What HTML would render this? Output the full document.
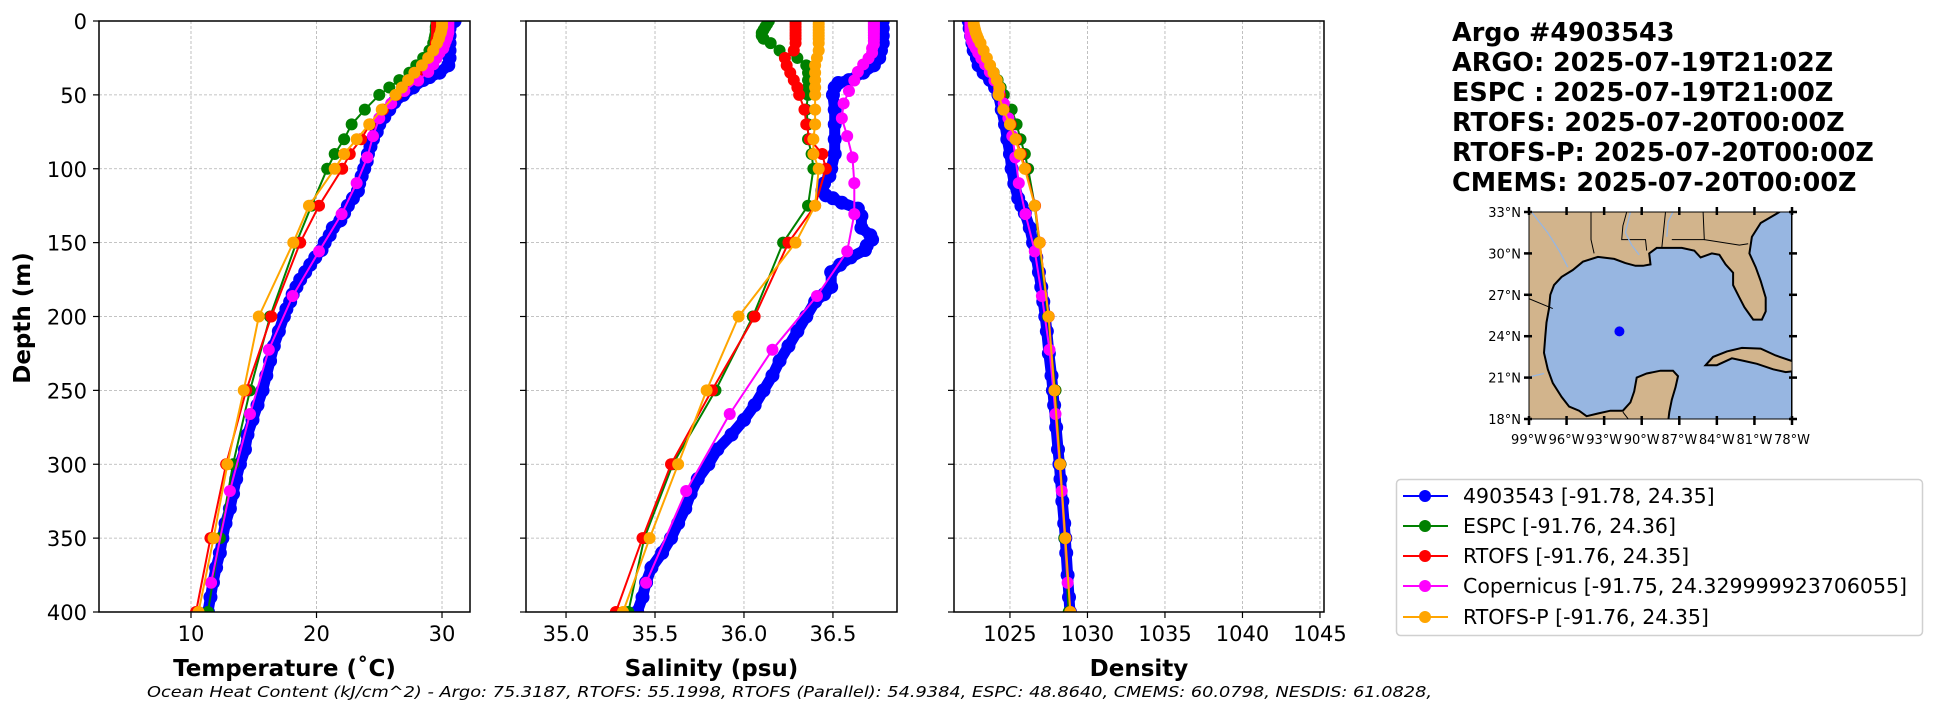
<!DOCTYPE html>
<html><head><meta charset="utf-8"><style>
html,body{margin:0;padding:0;background:#fff;}
svg{display:block;font-family:"DejaVu Sans","Liberation Sans",sans-serif;}
</style></head><body>
<svg id="fig" width="1948" height="712" viewBox="0 0 1948 712" xmlns="http://www.w3.org/2000/svg">
<rect width="1948" height="712" fill="#fff"/>
<g id="panels"></g>
<text x="0" y="0" transform="translate(30,318) rotate(-90)" text-anchor="middle" font-size="23" font-weight="bold">Depth (m)</text>
<text x="147" y="697" font-size="15" font-style="italic" textLength="1285" lengthAdjust="spacingAndGlyphs">Ocean Heat Content (kJ/cm^2) - Argo: 75.3187,  RTOFS: 55.1998,  RTOFS (Parallel): 54.9384,  ESPC: 48.8640,  CMEMS: 60.0798,  NESDIS: 61.0828,</text>
<g font-size="25.5" font-weight="bold">
<text x="1452" y="41">Argo #4903543</text>
<text x="1452" y="71">ARGO: 2025-07-19T21:02Z</text>
<text x="1452" y="101">ESPC : 2025-07-19T21:00Z</text>
<text x="1452" y="131">RTOFS: 2025-07-20T00:00Z</text>
<text x="1452" y="161">RTOFS-P: 2025-07-20T00:00Z</text>
<text x="1452" y="191">CMEMS: 2025-07-20T00:00Z</text>
</g>
<g id="map"></g>
<g>
<rect x="1396.5" y="479.5" width="526" height="156" rx="4" fill="#fff" stroke="#d0d0d0" stroke-width="1.5"/>
<g><line x1="1403" x2="1448" y1="496" y2="496" stroke="#0000ff" stroke-width="2"/><circle cx="1425" cy="496" r="6" fill="#0000ff"/><text x="1463" y="503" font-size="20.5">4903543 [-91.78, 24.35]</text></g>
<g><line x1="1403" x2="1448" y1="526" y2="526" stroke="#008000" stroke-width="2"/><circle cx="1425" cy="526" r="6" fill="#008000"/><text x="1463" y="533" font-size="20.5">ESPC [-91.76, 24.36]</text></g>
<g><line x1="1403" x2="1448" y1="556" y2="556" stroke="#ff0000" stroke-width="2"/><circle cx="1425" cy="556" r="6" fill="#ff0000"/><text x="1463" y="563" font-size="20.5">RTOFS [-91.76, 24.35]</text></g>
<g><line x1="1403" x2="1448" y1="586" y2="586" stroke="#ff00ff" stroke-width="2"/><circle cx="1425" cy="586" r="6" fill="#ff00ff"/><text x="1463" y="593" font-size="20.5">Copernicus [-91.75, 24.329999923706055]</text></g>
<g><line x1="1403" x2="1448" y1="617" y2="617" stroke="#ffa500" stroke-width="2"/><circle cx="1425" cy="617" r="6" fill="#ffa500"/><text x="1463" y="624" font-size="20.5">RTOFS-P [-91.76, 24.35]</text></g>
</g>
</svg>
<script>
const depthTicks = [0,50,100,150,200,250,300,350,400];
const tempTicks = [10,20,30];
const salTicks = [35.0,35.5,36.0,36.5];
const densTicks = [1025,1030,1035,1040,1045];
const modelDepths = [0,2,4,6,8,10,12,15,20,25,30,35,40,45,50,60,70,80,90,100,125,150,200,250,300,350,400];
const cmemsDepths = [0.5,1.5,2.6,3.8,5.1,6.4,7.9,9.6,11.4,13.5,15.8,18.5,21.6,25.2,29.4,34.4,40.3,47.4,55.8,65.8,77.9,92.3,109.7,130.7,155.9,186.1,222.5,266.0,318.1,380.2];
const argoDepthT = [0,2,5,10,15,20,25,30,35,38,40,45,50,55,60,65,70,75,80,85,90,95,100,105,110,115,120,125,130,135,140,145,150,155,160,165,170,175,180,185,190,195,200,210,220,230,240,250,260,270,280,290,300,310,320,330,340,350,360,370,380,390,400];
const argoTemp = [31.0,30.7,30.6,30.6,30.6,30.6,30.6,30.5,29.8,29.0,28.5,27.7,26.9,26.2,25.8,25.4,25.0,24.8,24.5,24.3,24.1,24.0,23.8,23.6,23.4,23.3,22.9,22.5,22.2,21.9,21.3,21.05,20.65,20.4,19.9,19.5,19.1,18.7,18.4,18.1,17.9,17.6,17.4,17.0,16.6,16.3,16.0,15.7,15.3,14.9,14.5,14.3,13.9,13.6,13.35,13.1,12.75,12.5,12.3,12.0,11.75,11.55,11.35];
const espcTemp = [29.55,29.55,29.5,29.5,29.5,29.45,29.4,29.3,29.0,28.5,27.95,27.4,26.6,25.8,25.0,23.85,22.8,22.2,21.45,20.85,19.6,18.4,16.3,14.7,13.35,12.3,11.35];
const rtofsTemp = [29.6,29.6,29.6,29.6,29.6,29.6,29.55,29.5,29.3,29.0,28.6,28.0,27.5,26.9,26.4,25.3,24.25,23.55,22.65,22.05,20.2,18.7,16.4,14.4,12.8,11.55,10.4];
const rtofspTemp = [30.0,30.0,30.0,29.95,29.9,29.8,29.75,29.6,29.3,28.9,28.4,27.8,27.3,26.8,26.3,25.2,24.2,23.2,22.2,21.45,19.4,18.15,15.4,14.2,12.9,11.8,10.6];
const cmemsTemp = [30.5,30.5,30.5,30.5,30.5,30.5,30.5,30.45,30.4,30.3,30.2,30.1,29.8,29.55,29.3,28.9,28.1,27.0,25.95,25.0,24.5,24.05,23.2,22.0,20.2,18.1,16.2,14.7,13.1,11.6];
const argoDepthS = [0,5,10,15,20,25,30,35,40,42,45,50,60,70,80,90,100,105,110,115,118,120,123,127,132,140,145,148,152,155,160,165,170,180,185,190,200,210,220,230,240,250,260,270,280,290,300,310,320,330,340,350,360,370,380,390,400];
const argoSal = [36.78,36.78,36.78,36.78,36.77,36.76,36.73,36.67,36.59,36.53,36.51,36.50,36.51,36.51,36.51,36.51,36.49,36.48,36.45,36.44,36.46,36.50,36.55,36.64,36.66,36.66,36.71,36.72,36.69,36.68,36.60,36.54,36.49,36.49,36.45,36.40,36.35,36.30,36.25,36.20,36.16,36.11,36.06,36.00,35.93,35.85,35.80,35.74,35.70,35.67,35.63,35.59,35.54,35.48,35.45,35.43,35.40];
const espcSal = [36.14,36.13,36.12,36.11,36.10,36.10,36.11,36.15,36.20,36.30,36.35,36.36,36.36,36.36,36.36,36.35,36.36,36.36,36.38,36.39,36.36,36.22,36.05,35.84,35.60,35.44,35.35];
const rtofsSal = [36.29,36.29,36.29,36.29,36.29,36.29,36.29,36.29,36.28,36.23,36.24,36.26,36.28,36.30,36.31,36.34,36.35,36.37,36.44,36.46,36.40,36.25,36.06,35.82,35.59,35.43,35.28];
const rtofspSal = [36.42,36.42,36.42,36.42,36.42,36.42,36.42,36.42,36.42,36.41,36.40,36.40,36.40,36.40,36.40,36.40,36.40,36.39,36.39,36.42,36.40,36.29,35.97,35.79,35.63,35.47,35.32];
const cmemsSal = [36.73,36.73,36.73,36.73,36.73,36.73,36.73,36.73,36.73,36.73,36.73,36.72,36.72,36.70,36.67,36.64,36.62,36.59,36.56,36.55,36.58,36.61,36.62,36.62,36.58,36.41,36.16,35.92,35.675,35.45];
const argoDepthD = [0,5,10,15,20,25,30,35,40,45,50,60,70,80,90,100,110,120,125,130,140,150,160,170,180,190,200,210,225,240,250,260,275,290,300,310,325,340,350,360,375,390,400];
const argoDens = [1022.34,1022.40,1022.49,1022.58,1022.66,1022.87,1022.98,1023.30,1023.72,1024.04,1024.26,1024.47,1024.68,1024.83,1025.00,1025.11,1025.28,1025.53,1025.74,1025.96,1026.28,1026.49,1026.70,1026.87,1027.02,1027.15,1027.28,1027.38,1027.51,1027.68,1027.77,1027.85,1027.98,1028.10,1028.19,1028.26,1028.38,1028.50,1028.57,1028.63,1028.72,1028.81,1028.87];
const espcDens = [1022.5,1022.5,1022.55,1022.6,1022.65,1022.7,1022.8,1022.95,1023.2,1023.45,1023.7,1023.95,1024.2,1024.4,1024.6,1025.11,1025.43,1025.68,1025.96,1026.17,1026.6,1026.87,1027.45,1027.94,1028.26,1028.51,1028.79];
const rtofsDens = [1022.6,1022.6,1022.62,1022.65,1022.7,1022.75,1022.8,1022.95,1023.2,1023.45,1023.7,1023.9,1024.1,1024.3,1024.35,1024.6,1025.05,1025.4,1025.7,1026.0,1026.62,1026.92,1027.5,1027.88,1028.24,1028.58,1028.9];
const rtofspDens = [1022.66,1022.66,1022.7,1022.75,1022.8,1022.87,1022.95,1023.1,1023.3,1023.51,1023.72,1023.94,1024.15,1024.32,1024.26,1024.57,1025.0,1025.36,1025.64,1025.96,1026.6,1026.91,1027.49,1027.87,1028.23,1028.57,1028.89];
const cmemsDens = [1022.45,1022.45,1022.45,1022.45,1022.45,1022.45,1022.45,1022.45,1022.5,1022.55,1022.65,1022.8,1022.95,1023.15,1023.4,1023.7,1024.0,1024.3,1024.6,1024.9,1025.15,1025.35,1025.57,1026.0,1026.6,1027.06,1027.55,1027.94,1028.34,1028.72];
const mapLatTicks = [33,30,27,24,21,18];
const mapLonTicks = [-99,-96,-93,-90,-87,-84,-81,-78];
const floatLon = -91.78, floatLat = 24.35;

const NS='http://www.w3.org/2000/svg';
function mk(tag, attrs, parent){const e=document.createElementNS(NS,tag);for(const k in attrs)e.setAttribute(k,attrs[k]);if(parent)parent.appendChild(e);return e;}
const TOP=21, BOT=612;
function yD(d){return TOP + d/400*(BOT-TOP);}
const panelsG=document.getElementById('panels');
const panels=[
 {key:'temperature', L:99,R:470,min:2.67,max:32.23,ticks:tempTicks,fmt:v=>String(v),title:'Temperature (˚C)',labels:true,
  series:[[argoDepthT,argoTemp,'#0000ff','argo'],[modelDepths,espcTemp,'#008000','espc'],[modelDepths,rtofsTemp,'#ff0000','rtofs'],[cmemsDepths,cmemsTemp,'#ff00ff','copernicus'],[modelDepths,rtofspTemp,'#ffa500','rtofs-p']]},
 {key:'salinity', L:526,R:897,min:34.775,max:36.86,ticks:salTicks,fmt:v=>v.toFixed(1),title:'Salinity (psu)',labels:false,
  series:[[argoDepthS,argoSal,'#0000ff','argo'],[modelDepths,espcSal,'#008000','espc'],[modelDepths,rtofsSal,'#ff0000','rtofs'],[cmemsDepths,cmemsSal,'#ff00ff','copernicus'],[modelDepths,rtofspSal,'#ffa500','rtofs-p']]},
 {key:'density', L:954,R:1324,min:1021.39,max:1045.26,ticks:densTicks,fmt:v=>String(v),title:'Density',labels:false,
  series:[[argoDepthD,argoDens,'#0000ff','argo'],[modelDepths,espcDens,'#008000','espc'],[modelDepths,rtofsDens,'#ff0000','rtofs'],[cmemsDepths,cmemsDens,'#ff00ff','copernicus'],[modelDepths,rtofspDens,'#ffa500','rtofs-p']]}
];
panels.forEach(p=>{
 const g=mk('g',{},panelsG);
 
 
 const xv=v=>p.L+(v-p.min)/(p.max-p.min)*(p.R-p.L);
 const cp=mk('clipPath',{id:'clip-'+p.key},g);
 mk('rect',{x:p.L,y:TOP,width:p.R-p.L,height:BOT-TOP},cp);
 const grid=mk('g',{stroke:'#b0b0b0','stroke-width':0.8,'stroke-dasharray':'3,2'},g);
 
 
 p.ticks.forEach(t=>{mk('line',{x1:xv(t),x2:xv(t),y1:TOP,y2:BOT},grid);});
 depthTicks.forEach(d=>{mk('line',{x1:p.L,x2:p.R,y1:yD(d),y2:yD(d)},grid);});
 const data=mk('g',{'clip-path':'url(#clip-'+p.key+')'},g);
 p.series.forEach(s=>{
  const [ds,vs,col,nm]=s;
  const sg=mk('g',{},data);
  
  
  const pts=ds.map((d,i)=>xv(vs[i]).toFixed(1)+','+yD(d).toFixed(1)).join(' ');
  mk('polyline',{points:pts,fill:'none',stroke:col,'stroke-width':nm==='argo'?11:2,'stroke-linejoin':'round'},sg);
  ds.forEach((d,i)=>{
   const c=mk('circle',{cx:xv(vs[i]),cy:yD(d),r:nm==='argo'?7:6,fill:col},sg);
   
   
  });
 });
 mk('rect',{x:p.L,y:TOP,width:p.R-p.L,height:BOT-TOP,fill:'none',stroke:'#000','stroke-width':1.5},g);
 const xa=mk('g',{},g);
 
 
 p.ticks.forEach(t=>{
  mk('line',{x1:xv(t),x2:xv(t),y1:BOT,y2:BOT+6,stroke:'#000','stroke-width':1.2},xa);
  const tx=mk('text',{x:xv(t),y:BOT+29,'text-anchor':'middle','font-size':21},xa);
  tx.textContent=p.fmt(t);
 });
 const ya=mk('g',{},g);
 
 
 depthTicks.forEach(d=>{
  mk('line',{x1:p.L-6,x2:p.L,y1:yD(d),y2:yD(d),stroke:'#000','stroke-width':1.2},ya);
  if(p.labels){const tx=mk('text',{x:p.L-12,y:yD(d)+8,'text-anchor':'end','font-size':21},ya);tx.textContent=String(d);}
 });
 const tt=mk('text',{x:(p.L+p.R)/2,y:676,'text-anchor':'middle','font-size':23,'font-weight':'bold'},g);
 
 
 tt.textContent=p.title;
});

// map
const mapG=document.getElementById('map');
const ML=1529,MR=1792,MT=212,MB=419;
const lonX=lo=>ML+(lo+99)/21*(MR-ML);
const latY=la=>MB-(la-18)/15*(MB-MT);
const mcp=mk('clipPath',{id:'clip-map'},mapG);
mk('rect',{x:ML,y:MT,width:MR-ML,height:MB-MT},mcp);
const mg=mk('g',{'clip-path':'url(#clip-map)'},mapG);
mk('rect',{x:ML,y:MT,width:MR-ML,height:MB-MT,fill:'#d2b48c'},mg);
const P=a=>a.map(q=>lonX(q[0]).toFixed(1)+','+latY(q[1]).toFixed(1)).join(' ');
const ocean=[[-78,34],[-79,33],[-80.5,32.2],[-81.2,31.2],[-81.4,30],[-80.9,29],[-80.5,28],[-80.1,26.8],[-80.1,25.8],[-80.4,25.2],[-81.1,25.2],[-81.8,26.1],[-82.2,26.8],[-82.7,27.7],[-82.7,28.6],[-83.3,29.2],[-83.8,29.9],[-84.4,30.0],[-85.3,29.7],[-85.8,30.2],[-86.8,30.4],[-88,30.4],[-88.8,30.4],[-89.4,30.0],[-89.3,29.2],[-89.9,29.1],[-90.5,29.1],[-91.3,29.3],[-92.2,29.6],[-93.5,29.75],[-94.7,29.4],[-95.5,28.8],[-96.4,28.3],[-97.0,27.7],[-97.3,27.0],[-97.4,26.0],[-97.6,25.0],[-97.7,24.0],[-97.8,22.8],[-97.5,21.6],[-97.1,20.6],[-96.4,19.6],[-95.8,18.9],[-95,18.6],[-94.4,18.2],[-93.5,18.4],[-92.5,18.6],[-91.5,18.6],[-90.9,19.2],[-90.6,20.0],[-90.4,21.0],[-89.6,21.3],[-88.5,21.5],[-87.5,21.5],[-87.1,21.1],[-87.3,20.3],[-87.6,19.4],[-87.8,18.5],[-88,17],[-78,17]];
const o=mk('polygon',{points:P(ocean),fill:'#97b6e1',stroke:'#000','stroke-width':2},mg);


const cuba=[[-84.9,21.9],[-84.3,22.5],[-83.2,22.9],[-82.0,23.15],[-80.5,23.1],[-79.3,22.6],[-78,22.2],[-77.5,21.5],[-78.5,21.4],[-79.5,21.6],[-80.8,22.0],[-81.8,22.2],[-82.8,22.4],[-84.0,21.9]];
const cu=mk('polygon',{points:P(cuba),fill:'#d2b48c',stroke:'#000','stroke-width':2},mg);


const borders=[[[-94.05,33],[-94.05,31.0],[-93.8,30.0]],[[-94.05,33],[-91.2,33]],[[-91.2,33],[-91.5,32],[-91.6,31],[-89.7,31],[-89.6,30.2]],[[-88.1,33],[-88.4,30.4]],[[-85.1,33],[-85.0,31.0],[-87.6,31.0]],[[-85.0,31],[-82.2,30.6],[-81.5,30.7]],[[-97.1,26],[-99.2,26.8]],[[-91.5,18.5],[-90.9,17.8]]];
borders.forEach(b=>{const l=mk('polyline',{points:P(b),fill:'none',stroke:'#000','stroke-width':1},mg);});
const rivers=[[[-98.8,33],[-97.5,31.5],[-96.6,30.2],[-95.9,29.0]],[[-90.9,33],[-91.3,31.5],[-90.8,30.6],[-90.2,29.9]],[[-99.2,21.0],[-97.8,21.3]],[[-87.5,33],[-87.9,32.3],[-88.0,31.2]]];
rivers.forEach(b=>{const l=mk('polyline',{points:P(b),fill:'none',stroke:'#97b6e1','stroke-width':1.3},mg);});
const dot=mk('circle',{cx:lonX(floatLon),cy:latY(floatLat),r:5,fill:'#0000ff'},mapG);


mk('rect',{x:ML,y:MT,width:MR-ML,height:MB-MT,fill:'none',stroke:'#000','stroke-width':1},mapG);
mapLatTicks.forEach(la=>{
 const y=latY(la);
 mk('line',{x1:ML-5,x2:ML+3,y1:y,y2:y,stroke:'#000','stroke-width':2.5},mapG);
 mk('line',{x1:MR-3,x2:MR+5,y1:y,y2:y,stroke:'#000','stroke-width':2.5},mapG);
 const t=mk('text',{x:ML-8,y:y+5,'text-anchor':'end','font-size':13},mapG);
 
 
 t.textContent=la+'°N';
});
mapLonTicks.forEach(lo=>{
 const x=lonX(lo);
 mk('line',{x1:x,x2:x,y1:MB-3,y2:MB+6,stroke:'#000','stroke-width':2.5},mapG);
 mk('line',{x1:x,x2:x,y1:MT-5,y2:MT+3,stroke:'#000','stroke-width':2.5},mapG);
 const t=mk('text',{x:x,y:MB+25,'text-anchor':'middle','font-size':13},mapG);
 
 
 t.textContent=(-lo)+'°W';
});
</script>
</body></html>
